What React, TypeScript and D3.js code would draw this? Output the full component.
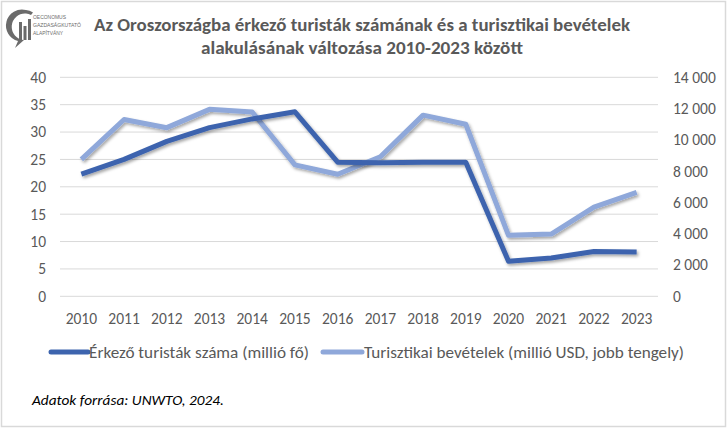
import React from "react";
import * as d3 from "d3";

const years = ["2010","2011","2012","2013","2014","2015","2016","2017","2018","2019","2020","2021","2022","2023"];
const arrivals = [22.3, 25.0, 28.3, 30.8, 32.4, 33.7, 24.5, 24.4, 24.5, 24.5, 6.4, 7.0, 8.2, 8.1];
const receipts = [8750, 11300, 10780, 11950, 11780, 8400, 7800, 8920, 11580, 11000, 3900, 3980, 5700, 6650];
const leftTicks = [0, 5, 10, 15, 20, 25, 30, 35, 40];
const rightTicks = [0, 2000, 4000, 6000, 8000, 10000, 12000, 14000];
const seriesNames = ["Érkező turisták száma (millió fő)", "Turisztikai bevételek (millió USD, jobb tengely)"];

const W = 727, H = 428;
const plotL = 60, plotR = 658, plotT = 77.3, plotB = 296.3;
const DARK = "#3D64AE";
const LIGHT = "#8FA8DA";
const TXT = "#595959";
const FONT = "Carlito, Calibri, Lato, 'Open Sans', sans-serif";

export default function App() {
  const x = d3.scaleBand<string>().domain(years).range([plotL, plotR]);
  const cx = (y: string) => (x(y) as number) + x.bandwidth() / 2;
  const yL = d3.scaleLinear().domain([0, 40]).range([plotB, plotT]);
  const yR = d3.scaleLinear().domain([0, 14000]).range([plotB, plotT]);
  const lineL = d3.line<number>().x((_, i) => cx(years[i])).y((d) => yL(d));
  const lineR = d3.line<number>().x((_, i) => cx(years[i])).y((d) => yR(d));
  const fmt = (v: number) => d3.format(",")(v).replace(/,/g, " ");

  return (
    <svg width={W} height={H} style={{ position: "absolute", left: 0, top: 0, fontFamily: FONT }}>
      <defs>
        <filter id="sh" x="-10%" y="-10%" width="120%" height="130%">
          <feDropShadow dx="1.5" dy="2" stdDeviation="1.5" floodColor="#000" floodOpacity="0.35" />
        </filter>
      </defs>
      <rect x={0} y={0} width={W} height={H} fill="#fff" />
      <rect x={1.5} y={1.5} width={W - 3} height={H - 3} fill="#fff" stroke="#d9d9d9" strokeWidth={1.5} />

      {/* logo */}
      <g transform="translate(9,9)">
        <path d="M17,1 A15,15 0 1 0 9,32 L6,39 L15,31 A12,12 0 0 1 17,4.5 Z" fill="#6b6b6b" />
        <path d="M17,1 A15,15 0 0 1 24,3.5 L22,6 A12,12 0 0 0 17,4.5 Z" fill="#6b6b6b" />
        <rect x={10} y={13} width={3} height={18} fill="#6b6b6b" />
        <rect x={14.5} y={17} width={3} height={14} fill="#6b6b6b" />
        <rect x={19} y={10} width={3} height={21} fill="#6b6b6b" />
        <g fontFamily="'Liberation Sans', sans-serif" fontSize={6} fill="#6b6b6b">
          <text x={24} y={10} textLength={33} lengthAdjust="spacingAndGlyphs">OECONOMUS</text>
          <text x={24} y={18} textLength={48} lengthAdjust="spacingAndGlyphs">GAZDASÁGKUTATÓ</text>
          <text x={24} y={26} textLength={30} lengthAdjust="spacingAndGlyphs">ALAPÍTVÁNY</text>
        </g>
      </g>

      {/* title */}
      <text x={362} y={31} textAnchor="middle" fontSize={17} fontWeight="bold" fill={TXT} textLength={536} lengthAdjust="spacingAndGlyphs">
        Az Oroszországba érkező turisták számának és a turisztikai bevételek
      </text>
      <text x={362} y={54} textAnchor="middle" fontSize={17} fontWeight="bold" fill={TXT} textLength={322} lengthAdjust="spacingAndGlyphs">
        alakulásának változása 2010-2023 között
      </text>

      {/* gridlines */}
      {leftTicks.map((t) => (
        <line key={t} x1={plotL} x2={plotR} y1={yL(t)} y2={yL(t)} stroke="#d9d9d9" strokeWidth={1} />
      ))}
      {/* left ticks */}
      {leftTicks.map((t) => (
        <text key={t} x={46} y={yL(t)} dy="0.35em" textAnchor="end" fontSize={15.5} fill={TXT}>{t}</text>
      ))}
      {/* right ticks */}
      {rightTicks.map((t) => (
        <text key={t} x={673} y={yR(t)} dy="0.35em" textAnchor="start" fontSize={15.5} fill={TXT}>{fmt(t)}</text>
      ))}
      {/* x labels */}
      {years.map((yv) => (
        <text key={yv} x={cx(yv)} y={324} textAnchor="middle" fontSize={15.5} fill={TXT}>{yv}</text>
      ))}

      {/* lines */}
      <path d={lineR(receipts) || ""} fill="none" stroke={LIGHT} strokeWidth={5} strokeLinejoin="round" filter="url(#sh)" />
      <path d={lineL(arrivals) || ""} fill="none" stroke={DARK} strokeWidth={5} strokeLinejoin="round" filter="url(#sh)" />

      {/* legend */}
      <line x1={51} x2={88} y1={352} y2={352} stroke={DARK} strokeWidth={5} strokeLinecap="round" />
      <text x={89} y={352} dy="0.35em" fontSize={16} fill={TXT} textLength={220} lengthAdjust="spacingAndGlyphs">{seriesNames[0]}</text>
      <line x1={323} x2={362} y1={352} y2={352} stroke={LIGHT} strokeWidth={5} strokeLinecap="round" />
      <text x={364} y={352} dy="0.35em" fontSize={16} fill={TXT} textLength={320} lengthAdjust="spacingAndGlyphs">{seriesNames[1]}</text>

      {/* source */}
      <text x={32} y={400} dy="0.35em" fontSize={14.5} fontStyle="italic" fill="#000" textLength={192} lengthAdjust="spacingAndGlyphs">Adatok forrása: UNWTO, 2024.</text>
    </svg>
  );
}
